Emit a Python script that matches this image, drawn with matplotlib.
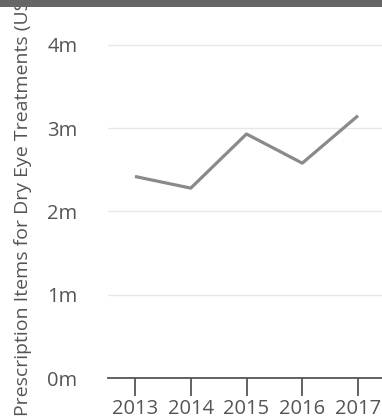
import matplotlib.pyplot as plt
from matplotlib.patches import Rectangle

years = [2013, 2014, 2015, 2016, 2017]
items_m = [2.42, 2.28, 2.93, 2.58, 3.15]  # millions of prescription items
y_ticks = [0, 1, 2, 3, 4]
y_tick_labels = ["0m", "1m", "2m", "3m", "4m"]

plt.rcParams["font.family"] = ["Open Sans", "DejaVu Sans"]

W, H = 382, 419
fig = plt.figure(figsize=(W / 100, H / 100), dpi=100)
ax = fig.add_axes([108 / W, 41 / H, 274 / W, 371 / H])

ax.plot(years, items_m, color="#8a8a8a", lw=2.3, solid_capstyle="butt", zorder=3)

ax.set_xlim(2012.516, 2017.43)
ax.set_ylim(0, 4.455)
ax.set_xticks(years)
ax.set_yticks(y_ticks)
ax.set_yticklabels(y_tick_labels)
ax.grid(axis="y", color="#e8e8e8", lw=1)
ax.grid(axis="x", visible=False)
ax.set_axisbelow(True)

for s in ["top", "right", "left"]:
    ax.spines[s].set_visible(False)
ax.spines["bottom"].set_color("#555555")
ax.spines["bottom"].set_linewidth(1.3)

ax.tick_params(axis="x", length=13, width=1.3, color="#555555", pad=2,
               labelsize=14.5, labelcolor="#555555")
ax.tick_params(axis="y", length=0, pad=22, labelsize=14.5, labelcolor="#555555")

fig.text(23 / W, 3 / H, "Prescription Items for Dry Eye Treatments (US)",
         rotation=90, ha="center", va="bottom", fontsize=14, color="#555555")

# dark header strip across the top
fig.patches.append(Rectangle((0, 1 - 7 / H), 1, 7 / H, transform=fig.transFigure,
                             facecolor="#666666", edgecolor="none", zorder=10))

fig.savefig("out.png", dpi=100)
